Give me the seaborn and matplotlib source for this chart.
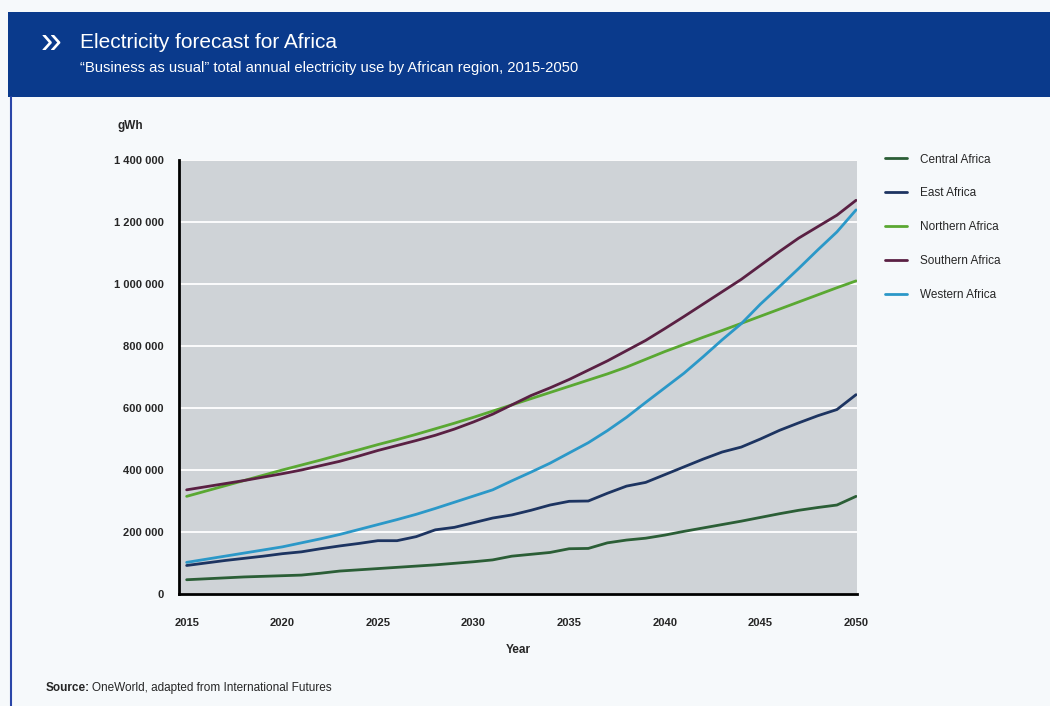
import numpy as np
import pandas as pd
import seaborn as sns
import matplotlib.pyplot as plt
from matplotlib.patches import Rectangle
from matplotlib.lines import Line2D

# ===== Data (gWh) =====
years = list(range(2015, 2051))

central = [46, 49, 52, 55, 57, 59, 61, 67, 74, 78, 82, 86, 90, 94, 99, 104, 110, 122,
           128, 134, 146, 147, 165, 174, 180, 190, 202, 213, 224, 235, 247, 259, 270,
           279, 287, 315]
east = [92, 100, 108, 115, 122, 130, 136, 146, 155, 163, 172, 172, 185, 207, 215, 230,
        245, 255, 270, 287, 299, 300, 325, 348, 360, 385, 410, 435, 458, 474, 500, 528,
        552, 575, 595, 643]
northern = [315, 332, 349, 366, 383, 400, 416, 432, 449, 465, 482, 498, 515, 533, 551,
            570, 590, 610, 630, 650, 670, 690, 710, 732, 757, 782, 805, 828, 850, 873,
            896, 919, 942, 965, 988, 1010]
southern = [336, 346, 356, 366, 377, 388, 400, 414, 428, 445, 463, 479, 495, 512, 532,
            555, 580, 610, 640, 665, 692, 722, 752, 785, 818, 856, 895, 935, 975, 1015,
            1060, 1105, 1148, 1185, 1222, 1270]
western = [102, 112, 122, 132, 142, 152, 165, 178, 192, 208, 224, 240, 257, 276, 296,
           316, 336, 365, 393, 422, 455, 488, 527, 570, 618, 665, 712, 765, 820, 872,
           935, 992, 1050, 1110, 1168, 1239]

regions = ['Central Africa', 'East Africa', 'Northern Africa', 'Southern Africa', 'Western Africa']
series = [central, east, northern, southern, western]
colors = ['#2b5e36', '#1d3461', '#5aa832', '#5a2043', '#2b98c8']
y_ticks = [0, 200000, 400000, 600000, 800000, 1000000, 1200000, 1400000]
x_ticks = [2015, 2020, 2025, 2030, 2035, 2040, 2045, 2050]

frames = []
for name, vals in zip(regions, series):
    frames.append(pd.DataFrame({'Year': years, 'value': np.array(vals) * 1000, 'region': name}))
data = pd.concat(frames, ignore_index=True)

# ===== Figure =====
sns.set_style('white')
plt.rcParams['font.family'] = ['Liberation Sans', 'DejaVu Sans']

fig = plt.figure(figsize=(10.5, 7.06), dpi=100)
fig.patch.set_facecolor('#f6f9fb')

# header band
fig.patches.append(Rectangle((8 / 1050, 1 - 97 / 706), 1, 85 / 706, transform=fig.transFigure,
                             facecolor='#0a3a8c', edgecolor='none', zorder=0))
fig.lines.append(Line2D([10.5 / 1050, 10.5 / 1050], [0, 1 - 97 / 706], transform=fig.transFigure,
                        color='#2a46a8', lw=1.5))
fig.text(40 / 1050, 1 - 43 / 706, '»', color='white', fontsize=27, va='center', ha='left')
fig.text(80 / 1050, 1 - 43 / 706, 'Electricity forecast for Africa', color='white',
         fontsize=15, va='center', ha='left')
fig.text(80 / 1050, 1 - 68 / 706, '\u201cBusiness as usual\u201d total annual electricity use by African region, 2015-2050',
         color='white', fontsize=10.6, va='center', ha='left')

ax = fig.add_axes([179 / 1050, 1 - 594 / 706, (857 - 179) / 1050, (594 - 160) / 706])
ax.set_facecolor('#cfd3d7')

sns.lineplot(data=data, x='Year', y='value', hue='region', palette=colors, hue_order=regions,
             linewidth=2, ax=ax, legend=False)

ax.set_xlim(2014.6, 2050.05)
ax.set_ylim(0, 1400000)
ax.set_xticks(x_ticks)
ax.set_yticks(y_ticks)
ax.set_yticklabels(['{:,}'.format(v).replace(',', ' ') for v in y_ticks])
ax.grid(axis='y', color='white', linewidth=1.3)
ax.set_axisbelow(True)
for side in ['top', 'right']:
    ax.spines[side].set_visible(False)
for side in ['left', 'bottom']:
    ax.spines[side].set_color('black')
    ax.spines[side].set_linewidth(2)
ax.tick_params(axis='both', which='major', length=5, width=1.8, color='black', direction='out',
               labelsize=8, pad=6)
ax.tick_params(axis='x', pad=12)
for lbl in ax.get_xticklabels() + ax.get_yticklabels():
    lbl.set_fontweight('bold')
ax.set_xlabel('Year', fontsize=8.5, fontweight='bold', labelpad=12)
ax.set_ylabel('')
fig.text(117 / 1050, 1 - 126 / 706, 'gWh', fontsize=8.5, fontweight='bold', ha='left', va='center')

handles = [Line2D([], [], color=c, lw=2) for c in colors]
fig.legend(handles, regions, loc='upper left', bbox_to_anchor=(874 / 1050, 1 - 143 / 706),
           frameon=False, fontsize=8.5, handlelength=1.9, handletextpad=1.1, labelspacing=1.85)

src = fig.text(46 / 1050, 1 - 688 / 706, 'Source:', fontsize=8.5, fontweight='bold', ha='left', va='center')
ax.annotate('OneWorld, adapted from International Futures', xy=(1, 0.5), xycoords=src,
            xytext=(1.5, 0), textcoords='offset points', fontsize=8.5, ha='left', va='center',
            annotation_clip=False)

fig.savefig('out.png', dpi=100, facecolor=fig.get_facecolor())
